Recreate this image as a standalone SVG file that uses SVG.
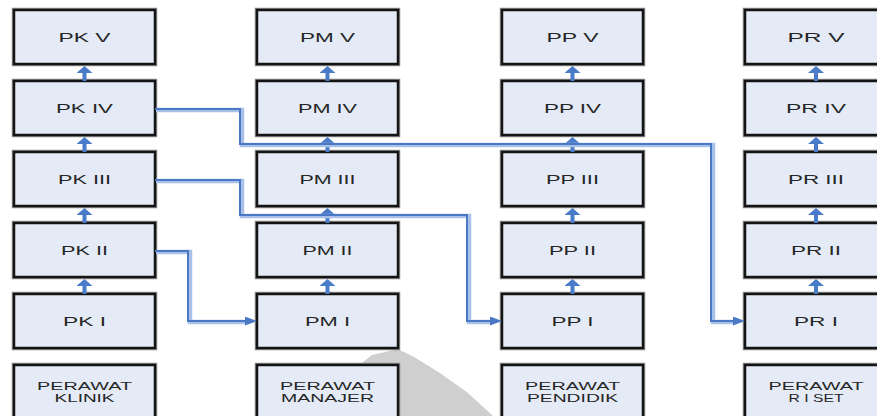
<svg xmlns="http://www.w3.org/2000/svg" width="877" height="416" viewBox="0 0 877 416">
<style>
.sh{fill:none;stroke:#8c8c8c;stroke-width:4.5}
.bx{fill:#e4ebf6;stroke:#141414;stroke-width:2.5}
.t{font-family:"Liberation Sans",Arial,sans-serif;font-size:13px;fill:#262626;text-anchor:middle}
.t2{font-family:"Liberation Sans",Arial,sans-serif;font-size:10.5px;fill:#262626;text-anchor:middle}
.up{stroke:#4a7bc9;stroke-width:4;fill:none;marker-end:url(#hu)}
.ln{fill:none;stroke:#4a78c4;stroke-width:2;marker-end:url(#hr)}
.lu{fill:none;stroke:#a9c1e8;stroke-width:4.5}
</style>
<defs>
<marker id="hu" viewBox="0 0 7 16" refX="0" refY="8" markerWidth="7" markerHeight="16" markerUnits="userSpaceOnUse" orient="auto"><path d="M0,0L7,8L0,16z" fill="#4a7bc9"/></marker>
<marker id="hr" viewBox="0 0 12 9" refX="0" refY="4.5" markerWidth="12" markerHeight="9" markerUnits="userSpaceOnUse" orient="auto"><path d="M0,0L12,4.5L0,9z" fill="#4a78c4"/></marker>
</defs>
<rect width="877" height="416" fill="#fff"/>
<polygon points="362,363 372,355 398,349 414,357 440,373 468,393 493,416 398,416 380,416 362,400" fill="#cfcfcf"/>

<g id="col1">
<g id="pk5"><rect class="sh" x="14" y="10" width="141" height="54"/><rect class="bx" x="14" y="10" width="141" height="54"/><text class="t" x="84.5" y="42" textLength="52" lengthAdjust="spacingAndGlyphs">PK V</text></g>
<g id="pk4"><rect class="sh" x="14" y="81" width="141" height="54"/><rect class="bx" x="14" y="81" width="141" height="54"/><text class="t" x="84.5" y="113" textLength="57" lengthAdjust="spacingAndGlyphs">PK IV</text></g>
<g id="pk3"><rect class="sh" x="14" y="152" width="141" height="54"/><rect class="bx" x="14" y="152" width="141" height="54"/><text class="t" x="84.5" y="184" textLength="53" lengthAdjust="spacingAndGlyphs">PK III</text></g>
<g id="pk2"><rect class="sh" x="14" y="223" width="141" height="54"/><rect class="bx" x="14" y="223" width="141" height="54"/><text class="t" x="84.5" y="255" textLength="47" lengthAdjust="spacingAndGlyphs">PK II</text></g>
<g id="pk1"><rect class="sh" x="14" y="294" width="141" height="54"/><rect class="bx" x="14" y="294" width="141" height="54"/><text class="t" x="84.5" y="326" textLength="43" lengthAdjust="spacingAndGlyphs">PK I</text></g>
<g id="klinik"><rect class="sh" x="14" y="365" width="141" height="54"/><rect class="bx" x="14" y="365" width="141" height="54"/><text class="t2" x="84.5" y="389.5" textLength="95" lengthAdjust="spacingAndGlyphs">PERAWAT</text><text class="t2" x="84.5" y="401.5" textLength="60" lengthAdjust="spacingAndGlyphs">KLINIK</text></g>
</g>

<g id="col2">
<g id="pm5"><rect class="sh" x="257" y="10" width="141" height="54"/><rect class="bx" x="257" y="10" width="141" height="54"/><text class="t" x="327.5" y="42" textLength="55" lengthAdjust="spacingAndGlyphs">PM V</text></g>
<g id="pm4"><rect class="sh" x="257" y="81" width="141" height="54"/><rect class="bx" x="257" y="81" width="141" height="54"/><text class="t" x="327.5" y="113" textLength="59" lengthAdjust="spacingAndGlyphs">PM IV</text></g>
<g id="pm3"><rect class="sh" x="257" y="152" width="141" height="54"/><rect class="bx" x="257" y="152" width="141" height="54"/><text class="t" x="327.5" y="184" textLength="56" lengthAdjust="spacingAndGlyphs">PM III</text></g>
<g id="pm2"><rect class="sh" x="257" y="223" width="141" height="54"/><rect class="bx" x="257" y="223" width="141" height="54"/><text class="t" x="327.5" y="255" textLength="50" lengthAdjust="spacingAndGlyphs">PM II</text></g>
<g id="pm1"><rect class="sh" x="257" y="294" width="141" height="54"/><rect class="bx" x="257" y="294" width="141" height="54"/><text class="t" x="327.5" y="326" textLength="45" lengthAdjust="spacingAndGlyphs">PM I</text></g>
<g id="manajer"><rect class="sh" x="257" y="365" width="141" height="54"/><rect class="bx" x="257" y="365" width="141" height="54"/><text class="t2" x="327.5" y="389.5" textLength="95" lengthAdjust="spacingAndGlyphs">PERAWAT</text><text class="t2" x="327.5" y="401.5" textLength="93" lengthAdjust="spacingAndGlyphs">MANAJER</text></g>
</g>

<g id="col3">
<g id="pp5"><rect class="sh" x="502" y="10" width="141" height="54"/><rect class="bx" x="502" y="10" width="141" height="54"/><text class="t" x="572.5" y="42" textLength="52" lengthAdjust="spacingAndGlyphs">PP V</text></g>
<g id="pp4"><rect class="sh" x="502" y="81" width="141" height="54"/><rect class="bx" x="502" y="81" width="141" height="54"/><text class="t" x="572.5" y="113" textLength="57" lengthAdjust="spacingAndGlyphs">PP IV</text></g>
<g id="pp3"><rect class="sh" x="502" y="152" width="141" height="54"/><rect class="bx" x="502" y="152" width="141" height="54"/><text class="t" x="572.5" y="184" textLength="53" lengthAdjust="spacingAndGlyphs">PP III</text></g>
<g id="pp2"><rect class="sh" x="502" y="223" width="141" height="54"/><rect class="bx" x="502" y="223" width="141" height="54"/><text class="t" x="572.5" y="255" textLength="47" lengthAdjust="spacingAndGlyphs">PP II</text></g>
<g id="pp1"><rect class="sh" x="502" y="294" width="141" height="54"/><rect class="bx" x="502" y="294" width="141" height="54"/><text class="t" x="572.5" y="326" textLength="42" lengthAdjust="spacingAndGlyphs">PP I</text></g>
<g id="pendidik"><rect class="sh" x="502" y="365" width="141" height="54"/><rect class="bx" x="502" y="365" width="141" height="54"/><text class="t2" x="572.5" y="389.5" textLength="95" lengthAdjust="spacingAndGlyphs">PERAWAT</text><text class="t2" x="572.5" y="401.5" textLength="91" lengthAdjust="spacingAndGlyphs">PENDIDIK</text></g>
</g>

<g id="col4">
<g id="pr5"><rect class="sh" x="745" y="10" width="141" height="54"/><rect class="bx" x="745" y="10" width="141" height="54"/><text class="t" x="816" y="42" textLength="57" lengthAdjust="spacingAndGlyphs">PR V</text></g>
<g id="pr4"><rect class="sh" x="745" y="81" width="141" height="54"/><rect class="bx" x="745" y="81" width="141" height="54"/><text class="t" x="816" y="113" textLength="60" lengthAdjust="spacingAndGlyphs">PR IV</text></g>
<g id="pr3"><rect class="sh" x="745" y="152" width="141" height="54"/><rect class="bx" x="745" y="152" width="141" height="54"/><text class="t" x="816" y="184" textLength="56" lengthAdjust="spacingAndGlyphs">PR III</text></g>
<g id="pr2"><rect class="sh" x="745" y="223" width="141" height="54"/><rect class="bx" x="745" y="223" width="141" height="54"/><text class="t" x="816" y="255" textLength="50" lengthAdjust="spacingAndGlyphs">PR II</text></g>
<g id="pr1"><rect class="sh" x="745" y="294" width="141" height="54"/><rect class="bx" x="745" y="294" width="141" height="54"/><text class="t" x="816" y="326" textLength="44" lengthAdjust="spacingAndGlyphs">PR I</text></g>
<g id="riset"><rect class="sh" x="745" y="365" width="141" height="54"/><rect class="bx" x="745" y="365" width="141" height="54"/><text class="t2" x="816" y="389.5" textLength="95" lengthAdjust="spacingAndGlyphs">PERAWAT</text><text class="t2" x="816" y="401.5" textLength="55" lengthAdjust="spacingAndGlyphs">R I SET</text></g>
</g>

<g id="connectors">
<path class="up" d="M84.5,81V73"/><path class="up" d="M84.5,152V144"/><path class="up" d="M84.5,223V215"/><path class="up" d="M84.5,294V286"/>
<path class="up" d="M327.5,81V73"/><path class="up" d="M327.5,152V144"/><path class="up" d="M327.5,223V215"/><path class="up" d="M327.5,294V286"/>
<path class="up" d="M572.5,81V73"/><path class="up" d="M572.5,152V144"/><path class="up" d="M572.5,223V215"/><path class="up" d="M572.5,294V286"/>
<path class="up" d="M816,81V73"/><path class="up" d="M816,152V144"/><path class="up" d="M816,223V215"/><path class="up" d="M816,294V286"/>
<path class="lu" d="M156,110H242V145H713V322H733"/>
<path class="lu" d="M156,181H242V216H469V322H490"/>
<path class="lu" d="M156,252H190V322H245"/>
<path class="ln" d="M155,109H240V144H711V321H733"/>
<path class="ln" d="M155,180H240V215H467V321H490"/>
<path class="ln" d="M155,251H188V321H245"/>
</g>
</svg>
